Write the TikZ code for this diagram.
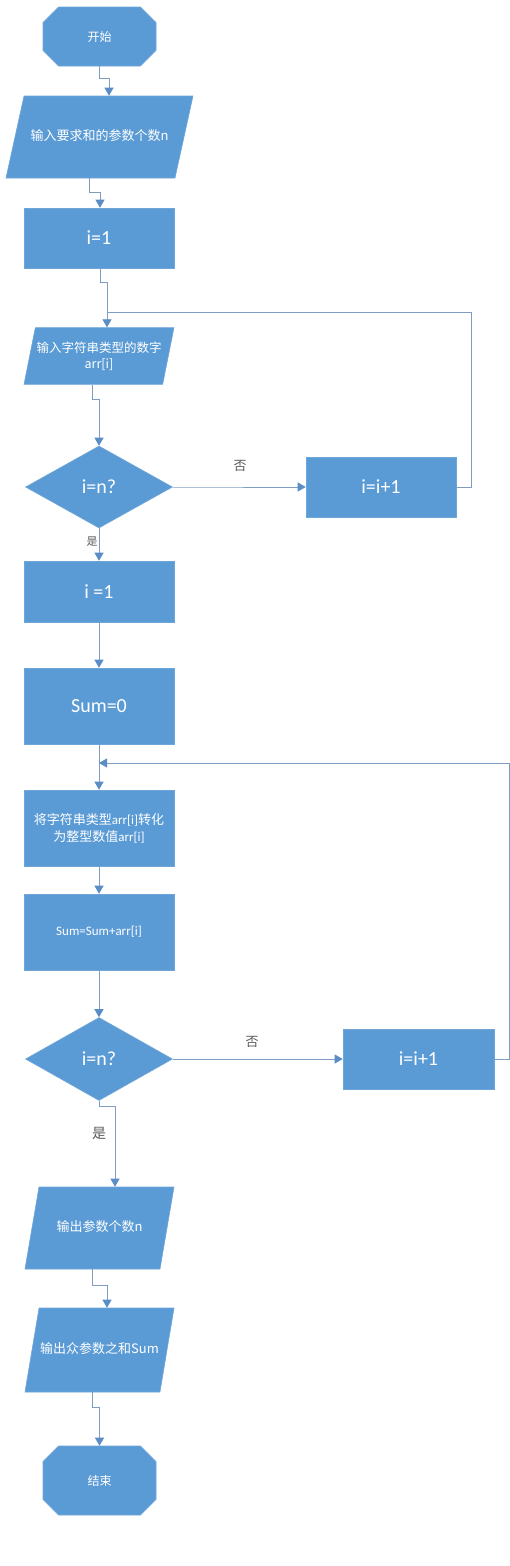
\documentclass[tikz,border=0pt]{standalone}
\usepackage{fontspec}
\setmainfont{Carlito}
\newfontfamily\cjk{Noto Sans CJK SC}
\usetikzlibrary{shapes.geometric,shapes.misc,arrows.meta}
\definecolor{boxblue}{HTML}{5B9BD5}
\definecolor{edgeblue}{HTML}{6FA6DA}
\definecolor{lineblue}{HTML}{7F9DC0}
\definecolor{tipblue}{HTML}{5A8CC6}
\definecolor{lblgray}{HTML}{595959}

\begin{document}
\begin{tikzpicture}[x=1pt,y=-1pt]
\tikzset{B/.style={rectangle,fill=boxblue,draw=edgeblue,line width=0.6pt,text=white,minimum width=150pt,minimum height=60pt,inner sep=2pt,align=center}}
\tikzset{T/.style={chamfered rectangle,chamfered rectangle xsep=10pt,chamfered rectangle ysep=10pt,fill=boxblue,draw=edgeblue,line width=0.6pt,text=white,minimum width=113pt,inner sep=0pt,font=\cjk\fontsize{12}{14}\selectfont}}
\tikzset{IO/.style={trapezium,trapezium stretches body=true,fill=boxblue,draw=edgeblue,line width=0.6pt,text=white,inner xsep=0pt,align=center,font=\cjk\fontsize{13}{17}\selectfont}}
\tikzset{one/.style={text height=10pt,text depth=3pt}}
\tikzset{D/.style={diamond,fill=boxblue,draw=edgeblue,line width=0.6pt,text=white,minimum width=147pt,minimum height=82pt,inner sep=0pt}}
\tikzset{big/.style={font=\fontsize{20}{24}\selectfont}}
\tikzset{small/.style={font=\fontsize{13}{17}\selectfont}}
\tikzset{arr/.style={draw=lineblue,line width=0.8pt,-{Triangle[width=9pt,length=8pt,color=tipblue]}}}
\tikzset{ln/.style={draw=lineblue,line width=0.8pt}}
\tikzset{lbl/.style={text=lblgray,inner sep=0pt,font=\cjk\fontsize{13}{15}\selectfont}}

\useasboundingbox (0,0) rectangle (510,1566);

  \node[T,minimum height=59pt] (start) at (99.5,36.5) {开始};
  \node[IO,one,trapezium left angle=77.6,trapezium right angle=102.4,minimum width=187pt,inner ysep=34.5pt] (in1) at (99.5,137) {输入要求和的参数个数n};
  \node[B,big] (init1) at (99,238) {i=1};
  \node[IO,trapezium left angle=78.7,trapezium right angle=101.3,minimum width=150pt,inner ysep=14pt,font=\cjk\fontsize{12.5}{16}\selectfont] (in2) at (99,356) {输入字符串类型的数字\\arr[i]};
  \node[D,big] (dec1) at (99,487) {i=n?};
  \node[B,big] (inc1) at (381,487) {i=i+1};
  \node[B,big,minimum height=61pt] (init2) at (99,591.5) {i =1};
  \node[B,big,minimum height=76pt] (sum0) at (99,706) {Sum=0};
  \node[B,small,minimum height=76pt] (conv) at (99,828) {{\cjk 将字符串类型}arr[i]{\cjk 转化}\\{\cjk 为整型数值}arr[i]};
  \node[B,small,minimum height=76pt] (add) at (99,932) {Sum=Sum+arr[i]};
  \node[D,big,minimum height=83pt] (dec2) at (99,1059) {i=n?};
  \node[B,big,minimum width=151pt] (inc2) at (418.5,1059) {i=i+1};
  \node[IO,one,trapezium left angle=80.3,trapezium right angle=99.7,minimum width=149pt,inner ysep=34.5pt] (out1) at (99.5,1228) {输出参数个数n};
  \node[IO,one,trapezium left angle=80.5,trapezium right angle=99.5,minimum width=149pt,inner ysep=35.5pt] (out2) at (99.5,1350) {输出众参数之和Sum};
  \node[T,minimum height=69pt] (stop) at (99.5,1480.5) {结束};

  \node[lbl] (no1) at (240,466) {否};
  \node[lbl,font=\cjk\fontsize{11}{13}\selectfont] (yes1) at (92,542) {是};
  \node[lbl] (no2) at (252,1042) {否};
  \node[lbl,font=\cjk\fontsize{14}{16}\selectfont] (yes2) at (99,1133) {是};

  \coordinate (j1) at (107,312);
  \coordinate (j2) at (99,763);

  \draw[arr] (start.south) -- ++(0,12) -| ([xshift=9.5pt]in1.north);
  \draw[arr] ([xshift=-10.5pt]in1.south) -- ++(0,14) -| ([xshift=1pt]init1.north);
  \draw[arr] ([xshift=1pt]init1.south) -- ++(0,14) -| ([xshift=8pt]in2.north);
  \draw[arr] ([xshift=-7pt]in2.south) -- ++(0,15) -| (dec1.north);
  \draw[arr] (dec1.east) -- ++(17,0) |- (inc1.west);
  \draw[ln] (inc1.east) -- ++(15,0) |- (j1);
  \draw[arr] (dec1.south) -- (init2.north);
  \draw[arr] (init2.south) -- (sum0.north);
  \draw[arr] (sum0.south) -- (conv.north);
  \draw[arr] (inc2.east) -- ++(15,0) |- (j2);
  \draw[arr] (conv.south) -- (add.north);
  \draw[arr] (add.south) -- (dec2.north);
  \draw[arr] (dec2.east) -- (inc2.west);
  \draw[arr] (dec2.south) -- ++(0,6) -| ([xshift=15.5pt]out1.north);
  \draw[arr] ([xshift=-7.5pt]out1.south) -- ++(0,16) -| ([xshift=7.5pt]out2.north);
  \draw[arr] ([xshift=-7.5pt]out2.south) -- ++(0,15) -| (stop.north);
\end{tikzpicture}
\end{document}
